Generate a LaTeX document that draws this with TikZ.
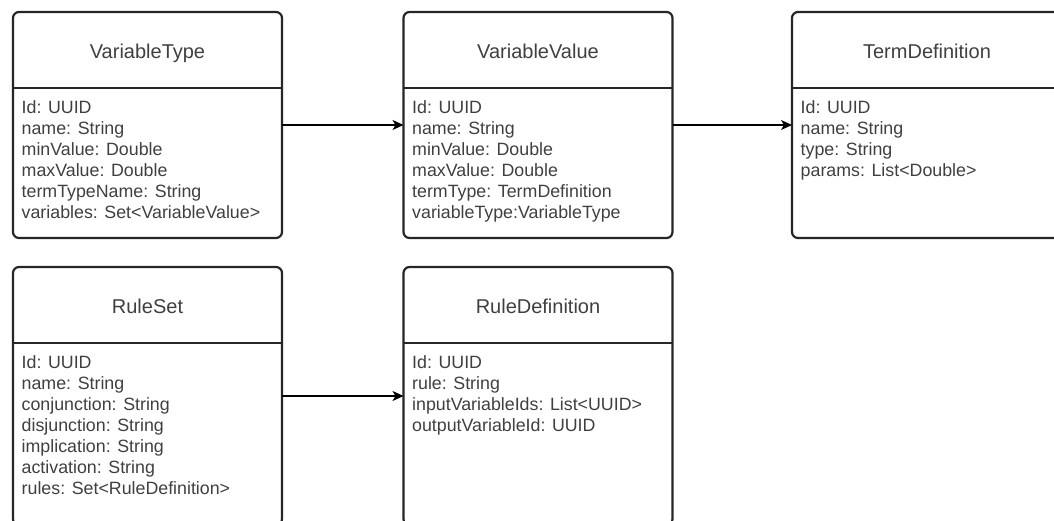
\documentclass[tikz,border=0pt]{standalone}
\usepackage{fontspec}
\setmainfont{Liberation Sans}
\usetikzlibrary{arrows.meta,calc}
\begin{document}
\begin{tikzpicture}[x=1pt,y=-1pt,
  umlbox/.style={draw=black!85, line width=2.2pt, rounded corners=6pt, inner sep=0pt, outer sep=0pt, minimum width=269pt, minimum height=226pt},
  divider/.style={draw=black!85, line width=2.2pt},
  titletext/.style={anchor=base, inner sep=0pt, text=black!75, font=\fontsize{20}{24}\selectfont},
  bodytext/.style={anchor=north west, inner sep=0pt, align=left, text=black!75, font=\fontsize{17.8}{20.9}\selectfont},
  conn/.style={draw=black, line width=1.3pt, -{Stealth[length=11pt,width=10pt,inset=3pt]}}
]
\useasboundingbox (0,0) rectangle (1054,520);
\fill[white] (0,0) rectangle (1054,520);
\clip (0,0) rectangle (1054,520);

% boxes
\node[umlbox] (vt) at (147.5,125) {};
\node[umlbox] (vv) at (538,125) {};
\node[umlbox, minimum width=270pt] (td) at (927,125) {};
\node[umlbox, minimum height=258pt] (rs) at (147.5,396) {};
\node[umlbox, minimum height=258pt] (rd) at (538,396) {};

% dividers
\foreach \b in {vt,vv,td,rs,rd}
  \draw[divider] ($(\b.north west)+(0,76)$) -- ($(\b.north east)+(0,76)$);

% titles
\node[titletext] (vtt) at ($(vt.north)+(0,46)$) {VariableType};
\node[titletext] (vvt) at ($(vv.north)+(0,46)$) {VariableValue};
\node[titletext] (tdt) at ($(td.north)+(0,46)$) {TermDefinition};
\node[titletext] (rst) at ($(rs.north)+(0,46)$) {RuleSet};
\node[titletext] (rdt) at ($(rd.north)+(0,46)$) {RuleDefinition};

% bodies
\node[bodytext] (vtb) at ($(vt.north west)+(8.5,88.6)$) {Id: UUID\\name: String\\minValue: Double\\maxValue: Double\\termTypeName: String\\variables: Set<VariableValue>};
\node[bodytext] (vvb) at ($(vv.north west)+(8.5,88.6)$) {Id: UUID\\name: String\\minValue: Double\\maxValue: Double\\termType: TermDefinition\\variableType:VariableType};
\node[bodytext] (tdb) at ($(td.north west)+(8.5,88.6)$) {Id: UUID\\name: String\\type: String\\params: List<Double>};
\node[bodytext] (rsb) at ($(rs.north west)+(8.5,88.6)$) {Id: UUID\\name: String\\conjunction: String\\disjunction: String\\implication: String\\activation: String\\rules: Set<RuleDefinition>};
\node[bodytext] (rdb) at ($(rd.north west)+(8.5,88.6)$) {Id: UUID\\rule: String\\inputVariableIds: List<UUID>\\outputVariableId: UUID};

% connectors
\draw[conn] (vt.east) -- (vv.west);
\draw[conn] (vv.east) -- (td.west);
\draw[conn] (rs.east) -- (rd.west);
\end{tikzpicture}
\end{document}
